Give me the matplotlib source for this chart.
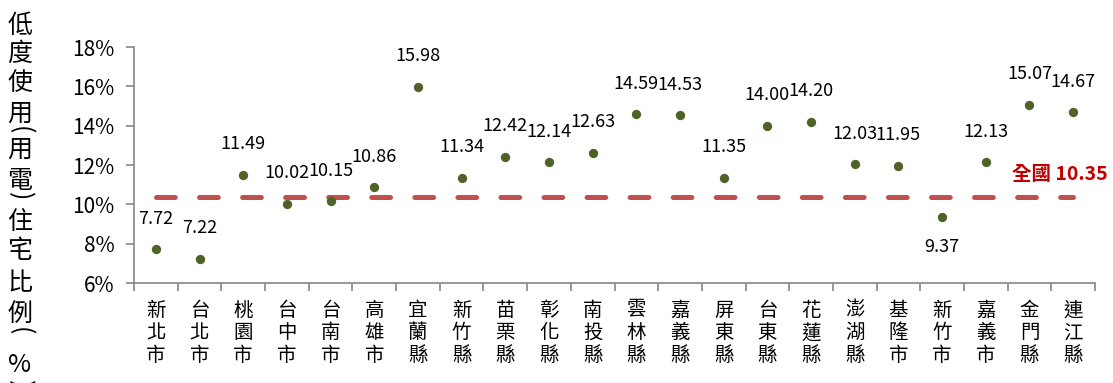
import matplotlib.pyplot as plt
from matplotlib.ticker import FuncFormatter

plt.rcParams['font.family'] = ['Noto Sans CJK TC', 'DejaVu Sans']
plt.rcParams['lines.scale_dashes'] = False

# 各縣市低度使用(用電)住宅比例
counties = ["新北市", "台北市", "桃園市", "台中市", "台南市", "高雄市", "宜蘭縣",
            "新竹縣", "苗栗縣", "彰化縣", "南投縣", "雲林縣", "嘉義縣", "屏東縣",
            "台東縣", "花蓮縣", "澎湖縣", "基隆市", "新竹市", "嘉義市", "金門縣", "連江縣"]
ratios = [7.72, 7.22, 11.49, 10.02, 10.15, 10.86, 15.98, 11.34, 12.42, 12.14, 12.63,
          14.59, 14.53, 11.35, 14.00, 14.20, 12.03, 11.95, 9.37, 12.13, 15.07, 14.67]
national = 10.35
yticks = [6, 8, 10, 12, 14, 16, 18]
labels_below = ["新竹市"]
ylabel = "低度使用(用電)住宅比例(%)"

W, H = 1113, 383
fig = plt.figure(figsize=(W / 100, H / 100), dpi=100)
ax = fig.add_axes([134 / W, (H - 283) / H, (1095 - 134) / W, (283 - 47) / H])

x = list(range(len(counties)))

# 全國平均虛線
ax.plot([x[0], x[-1]], [national, national], color="#C0504D", lw=3.6,
        dashes=(13.5, 17.5), dash_capstyle="round", zorder=2)

ax.scatter(x, ratios, s=45, color="#4F6228", zorder=3, linewidths=0)

for xi, name, v in zip(x, counties, ratios):
    dy = -22 if name in labels_below else 22
    ax.annotate(f"{v:.2f}", (xi, v), xytext=(0, dy),
                textcoords="offset points", ha="center", va="center",
                fontsize=13, color="black")

ax.text(x[-1] + 0.8, national + 1.15, f"全國 {national:.2f}", color="#C00000",
        fontsize=14, fontweight="bold", ha="right", va="center")

ax.set_xlim(-0.5, len(counties) - 0.5)
ax.set_ylim(6, 18)
ax.set_yticks(yticks)
ax.yaxis.set_major_formatter(FuncFormatter(lambda v, p: f"{v:.0f}%"))

# 類別間的刻度線，標籤放在類別中央
ax.set_xticks([i - 0.5 for i in range(len(counties) + 1)])
ax.set_xticklabels([])
ax.set_xticks(x, minor=True)
ax.set_xticklabels(["\n".join(c) for c in counties], minor=True, fontsize=14,
                   linespacing=1.1, va="top")
ax.tick_params(axis="x", which="minor", length=0, pad=12)
ax.tick_params(axis="x", which="major", length=6, width=1.2, color="#868686")
ax.tick_params(axis="y", length=6, width=1.2, color="#868686", labelsize=15, pad=8)

for side in ["top", "right"]:
    ax.spines[side].set_visible(False)
for side in ["left", "bottom"]:
    ax.spines[side].set_color("#868686")
    ax.spines[side].set_linewidth(1.2)

# 直排的縱軸標題，括號轉 90 度且只佔半格
char_y = [26, 54, 83, 114, 130, 150, 181, 196, 222, 251, 283, 314, 331, 365, 384]
for ch, py in zip(ylabel, char_y):
    rot = -90 if ch in "()" else 0
    fig.text(20 / W, 1 - py / H, ch, ha="center", va="center", fontsize=18,
             rotation=rot, rotation_mode="anchor")

fig.savefig("out.png", dpi=100)
